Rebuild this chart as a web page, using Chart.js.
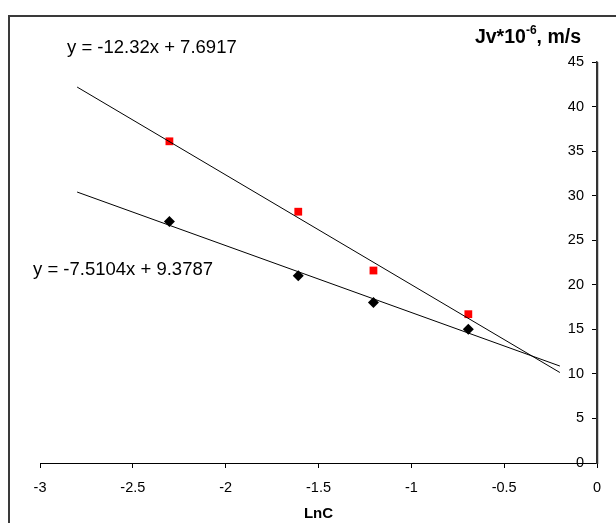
<!DOCTYPE html>
<html>
<head>
<meta charset="utf-8">
<script src="https://cdn.jsdelivr.net/npm/chart.js@4"></script>
<style>
  html, body { margin: 0; padding: 0; background: #fff; }
  #wrap { width: 616px; height: 523px; position: relative; }
</style>
</head>
<body>
<div id="wrap"><canvas id="c" width="616" height="523"></canvas></div>
<script>
// ---- data ----
const lnC = [-2.303, -1.609, -1.204, -0.693];
const redValues = [36.1, 28.2, 21.6, 16.7];
const blackValues = [27.1, 21.0, 18.0, 15.0];
// trendline coefficients as printed on the chart
const redSlope = -12.32, redIntercept = 7.6917;
const blackSlope = -7.5104, blackIntercept = 9.3787;
const trendRange = [-2.8, -0.2];
const xTicks = [-3, -2.5, -2, -1.5, -1, -0.5, 0];
const yTicks = [0, 5, 10, 15, 20, 25, 30, 35, 40, 45];
const eqRed = 'y = -12.32x + 7.6917';
const eqBlack = 'y = -7.5104x + 9.3787';
const xTitle = 'LnC';

const FONT = '"Liberation Sans", Arial, sans-serif';

const pts = (xs, ys) => xs.map((x, i) => ({x, y: ys[i]}));
const trend = (m, b) => trendRange.map(x => ({x, y: m * x + b}));

const overlay = {
  id: 'overlay',
  afterLayout(chart) {
    // y axis crosses the x axis at x = 0 (right edge), labels on its left
    const y = chart.scales.y;
    const xr = chart.scales.x.getPixelForValue(0);
    y.left = xr - 80;
    y.right = xr;
  },
  beforeDraw(chart) {
    const ctx = chart.ctx;
    ctx.save();
    ctx.fillStyle = '#fff';
    ctx.fillRect(0, 0, chart.width, chart.height);
    ctx.strokeStyle = '#3a3a3a';
    ctx.lineWidth = 2;
    ctx.strokeRect(9, 16, 700, 600);
    ctx.restore();
  },
  afterDraw(chart) {
    const ctx = chart.ctx;
    const xs = chart.scales.x, ys = chart.scales.y;
    ctx.save();
    // vertical axis line at x = 0
    const ax = Math.round(xs.getPixelForValue(0)) + 0.5;
    ctx.strokeStyle = '#333';
    ctx.lineWidth = 1.5;
    ctx.beginPath();
    ctx.moveTo(ax, ys.getPixelForValue(45));
    ctx.lineTo(ax, ys.getPixelForValue(0) + 1);
    ctx.stroke();

    ctx.fillStyle = '#000';
    ctx.textBaseline = 'middle';
    ctx.font = '18.5px ' + FONT;
    ctx.textAlign = 'left';
    ctx.fillText(eqRed, 67, 48);
    ctx.fillText(eqBlack, 33, 270);
    // y axis title with superscript
    const big = 'bold 19.5px ' + FONT, small = 'bold 12px ' + FONT;
    const p1 = 'Jv*10', sup = '-6', p2 = ', m/s';
    ctx.font = big;
    const w1 = ctx.measureText(p1).width;
    const w3 = ctx.measureText(p2).width;
    ctx.font = small;
    const w2 = ctx.measureText(sup).width;
    const right = 581;
    const x = right - (w1 + w2 + w3);
    const y = 38;
    ctx.font = big;
    ctx.fillText(p1, x, y);
    ctx.font = small;
    ctx.fillText(sup, x + w1, y - 7);
    ctx.font = big;
    ctx.fillText(p2, x + w1 + w2, y);
    ctx.restore();
  }
};

new Chart(document.getElementById('c'), {
  type: 'scatter',
  data: {
    datasets: [
      { data: trend(redSlope, redIntercept), showLine: true, borderColor: '#000', borderWidth: 1, pointRadius: 0, fill: false },
      { data: trend(blackSlope, blackIntercept), showLine: true, borderColor: '#000', borderWidth: 1, pointRadius: 0, fill: false },
      { data: pts(lnC, redValues), pointStyle: 'rect', pointRadius: 5.5, backgroundColor: '#ff0000', borderColor: '#ff0000', borderWidth: 0 },
      { data: pts(lnC, blackValues), pointStyle: 'rectRot', pointRadius: 5.5, backgroundColor: '#000', borderColor: '#000', borderWidth: 0 }
    ]
  },
  options: {
    responsive: false,
    animation: false,
    events: [],
    layout: { padding: { left: 40, right: 19, top: 62, bottom: 0 } },
    plugins: { legend: { display: false }, tooltip: { enabled: false } },
    scales: {
      x: {
        type: 'linear', position: 'bottom', min: -3, max: 0,
        afterBuildTicks(s) { s.ticks = xTicks.map(v => ({value: v})); },
        afterFit(s) { s.height = 60; },
        grid: { drawOnChartArea: false, tickLength: 5, color: '#000', tickColor: '#000' },
        border: { color: '#000', width: 1 },
        ticks: { color: '#000', font: { family: FONT, size: 14.5 }, padding: 11, maxRotation: 0, autoSkip: false, callback: v => String(v) },
        title: { display: true, text: xTitle, color: '#000', font: { family: FONT, size: 15, weight: 'bold' }, padding: { top: 0, bottom: 0 } }
      },
      y: {
        type: 'linear', position: 'left', min: 0, max: 45,
        afterBuildTicks(s) { s.ticks = yTicks.map(v => ({value: v})); },
        afterFit(s) { s.width = 0; },
        grid: { drawOnChartArea: false, tickLength: 5, color: '#000', tickColor: '#000' },
        border: { color: '#333', width: 1.5 },
        ticks: { color: '#000', font: { family: FONT, size: 14.5 }, padding: 8, autoSkip: false, callback: v => String(v) }
      }
    }
  },
  plugins: [overlay]
});
</script>
</body>
</html>
